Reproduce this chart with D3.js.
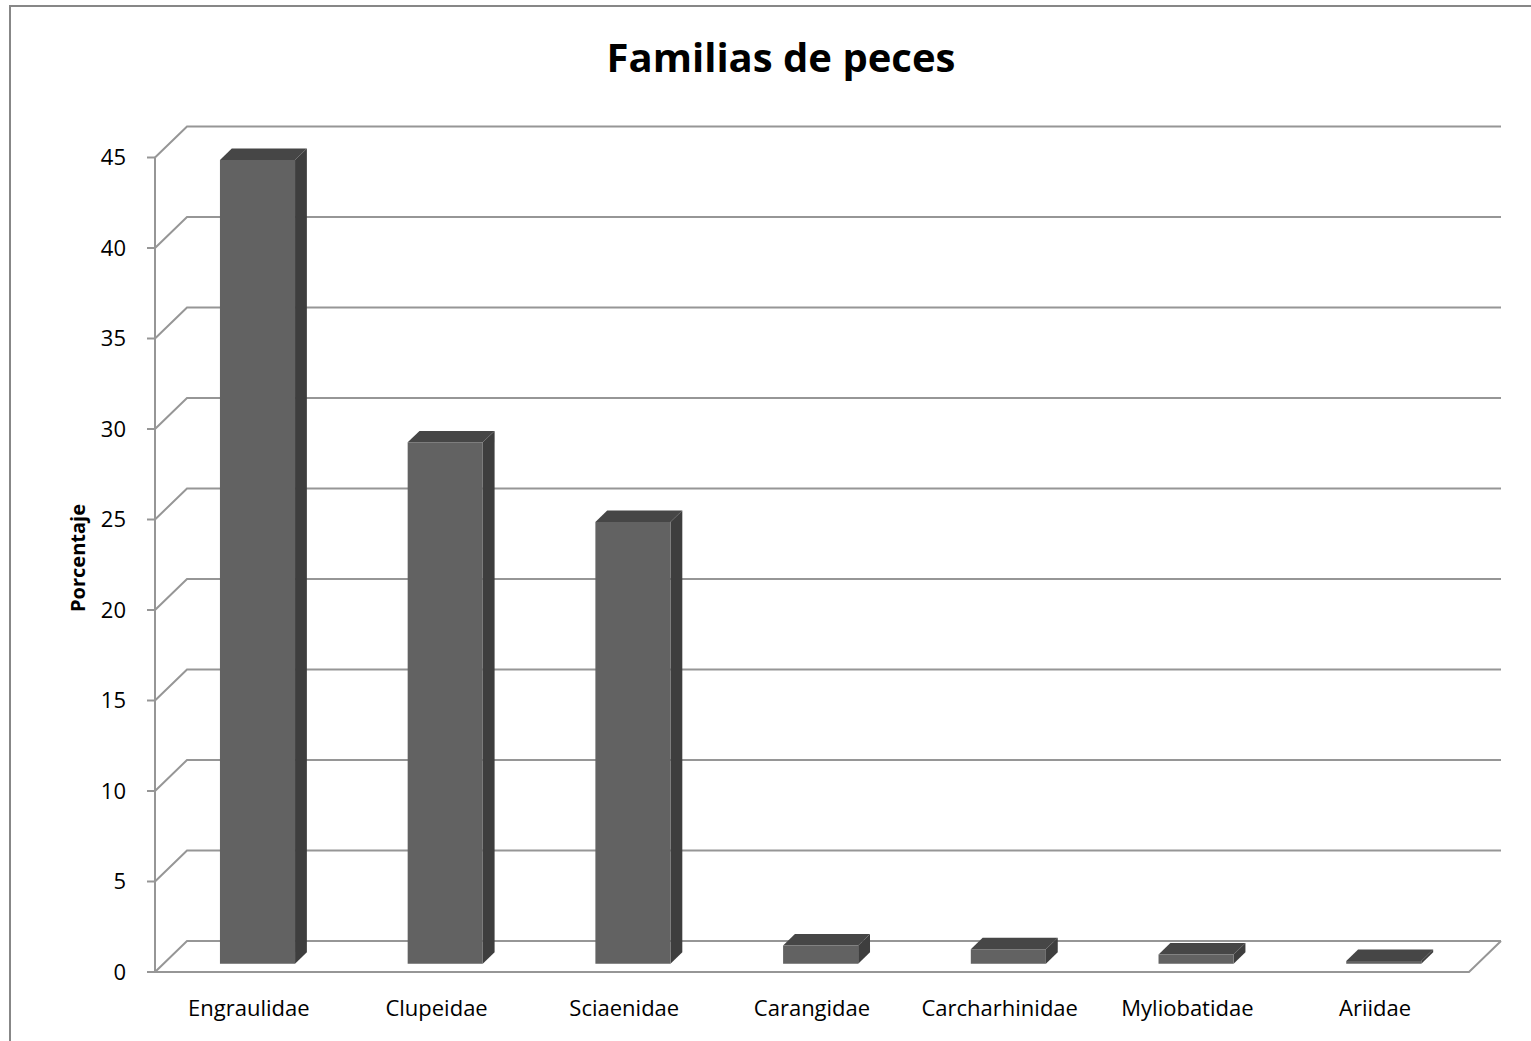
<!DOCTYPE html>
<html>
<head>
<meta charset="utf-8">
<script src="https://cdn.jsdelivr.net/npm/d3@7"></script>
<style>
  body { margin: 0; background: #fff; }
  text { font-family: "Open Sans", sans-serif; }
</style>
</head>
<body>
<script>
const width = 1531;
const height = 1041;

// data
const families = ["Engraulidae", "Clupeidae", "Sciaenidae", "Carangidae", "Carcharhinidae", "Myliobatidae", "Ariidae"];
const percent = [44.4, 28.8, 24.4, 1.0, 0.8, 0.5, 0.15];
const yTicks = [0, 5, 10, 15, 20, 25, 30, 35, 40, 45];

// 3d depth of the floor (px) and bar depth fractions
const depthX = 32, depthY = 31;
const barFront = 0.27, barBack = 0.64;

let svg = d3.select("body").append("svg").attr("width", width).attr("height", height);

// outer chart border (only left + top visible)
svg.append("rect")
    .attr("x", 10).attr("y", 6)
    .attr("width", width + 20).attr("height", height + 20)
    .attr("fill", "none").attr("stroke", "#878787").attr("stroke-width", 2);

let x = d3.scaleBand().domain(families).range([155, 1469]).paddingInner(0).paddingOuter(0);
let y = d3.scaleLinear().domain([0, 45]).range([972, 157.5]);

// shift a front-plane point back into depth d (0..1)
function pt(px, py, d) {
    return [px + depthX * d, py - depthY * d];
}

let grid = svg.append("g");
let line = d3.line();

yTicks.forEach(t => {
    let front = [155, y(t)];
    let back = pt(155, y(t), 1);
    let backEnd = pt(1469, y(t), 1);
    grid.append("path")
        .attr("d", line([front, back, backEnd]))
        .attr("fill", "none").attr("stroke", "#969696").attr("stroke-width", 2);
    // tick mark
    grid.append("line")
        .attr("x1", 147).attr("x2", 155)
        .attr("y1", y(t)).attr("y2", y(t))
        .attr("stroke", "#969696").attr("stroke-width", 2);
    grid.append("text")
        .attr("x", 126).attr("y", y(t))
        .attr("dy", "0.36em")
        .attr("text-anchor", "end")
        .attr("font-size", 22)
        .attr("fill", "#000")
        .text(t);
});

// floor front edge and right side
grid.append("path")
    .attr("d", line([[155, y(0)], [1469, y(0)], pt(1469, y(0), 1)]))
    .attr("fill", "none").attr("stroke", "#969696").attr("stroke-width", 2);

// vertical axis
grid.append("line")
    .attr("x1", 155).attr("x2", 155)
    .attr("y1", y(0)).attr("y2", y(45))
    .attr("stroke", "#969696").attr("stroke-width", 2);

// bars
let bars = svg.append("g");
families.forEach((f, i) => {
    let bw = x.bandwidth() * 0.4;
    let cx = x(f) + x.bandwidth() / 2;
    let x0 = cx - bw / 2, x1 = cx + bw / 2;
    let y0 = y(0), yv = y(percent[i]);

    let side = [pt(x1, y0, barFront), pt(x1, yv, barFront), pt(x1, yv, barBack), pt(x1, y0, barBack)];
    let top = [pt(x0, yv, barFront), pt(x1, yv, barFront), pt(x1, yv, barBack), pt(x0, yv, barBack)];
    let front = [pt(x0, y0, barFront), pt(x1, y0, barFront), pt(x1, yv, barFront), pt(x0, yv, barFront)];

    bars.append("path").attr("d", line(side) + "Z").attr("fill", "#3e3e3e");
    bars.append("path").attr("d", line(top) + "Z").attr("fill", "#464646");
    bars.append("path").attr("d", line(front) + "Z").attr("fill", "#626262");
});

// category labels
svg.append("g").selectAll("text")
    .data(families)
    .enter()
    .append("text")
    .attr("x", d => x(d) + x.bandwidth() / 2)
    .attr("y", 1016)
    .attr("text-anchor", "middle")
    .attr("font-size", 22)
    .text(d => d);

// title
svg.append("text")
    .attr("x", 781).attr("y", 72)
    .attr("text-anchor", "middle")
    .attr("font-size", 40)
    .attr("font-weight", "bold")
    .text("Familias de peces");

// y axis title
svg.append("text")
    .attr("transform", "translate(85,558) rotate(-90)")
    .attr("text-anchor", "middle")
    .attr("font-size", 20)
    .attr("font-weight", "bold")
    .text("Porcentaje");
</script>
</body>
</html>
